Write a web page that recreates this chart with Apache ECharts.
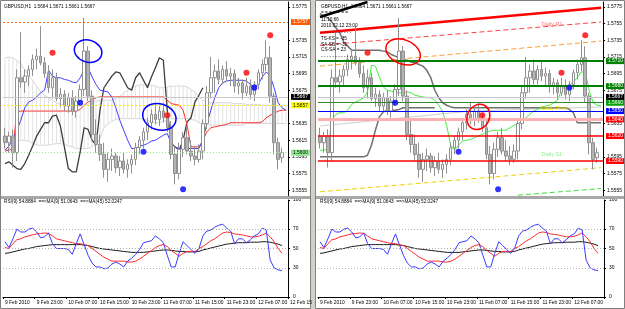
<!DOCTYPE html>
<html><head><meta charset="utf-8">
<script src="https://cdn.jsdelivr.net/npm/echarts@6.0.0/dist/echarts.min.js"></script>
<style>html,body{margin:0;padding:0;background:#fff;}#chart{width:625px;height:309px;}</style>
</head><body><div id="chart"></div>
<script>
// ---------- DATA ----------
const timeLabels = ['9 Feb 2010','9 Feb 23:00','10 Feb 07:00','10 Feb 15:00','10 Feb 23:00','11 Feb 07:00','11 Feb 15:00','11 Feb 23:00','12 Feb 07:00','12 Feb 15:00'];
const leftPriceTicks = [1.5555,1.5575,1.5595,1.5615,1.5635,1.5675,1.5695,1.5715,1.5735,1.5775];
const rightPriceTicks = [1.5555,1.5575,1.5595,1.5635,1.5675,1.5695,1.5715,1.5735,1.5755,1.5775];
const rsiTicks = [0,30,50,70,100];

const opens  = [1.5620,1.5612,1.5620,1.5600,1.5690,1.5685,1.5692,1.5700,1.5712,1.5716,1.5708,1.5695,1.5678,1.5690,1.5665,1.5670,1.5656,1.5666,1.5650,1.5662,1.5676,1.5722,1.5668,1.5622,1.5610,1.5598,1.5580,1.5592,1.5596,1.5582,1.5590,1.5580,1.5586,1.5592,1.5606,1.5615,1.5625,1.5636,1.5646,1.5640,1.5650,1.5642,1.5630,1.5598,1.5575,1.5604,1.5618,1.5602,1.5596,1.5592,1.5602,1.5635,1.5672,1.5690,1.5698,1.5688,1.5700,1.5692,1.5695,1.5680,1.5684,1.5672,1.5680,1.5670,1.5682,1.5696,1.5706,1.5714,1.5668,1.5612,1.5594];
const highs  = [1.5630,1.5625,1.5628,1.5700,1.5745,1.5700,1.5705,1.5718,1.5725,1.5752,1.5715,1.5705,1.5700,1.5696,1.5678,1.5675,1.5672,1.5675,1.5668,1.5682,1.5762,1.5728,1.5675,1.5640,1.5622,1.5612,1.5600,1.5605,1.5600,1.5596,1.5600,1.5592,1.5598,1.5612,1.5620,1.5630,1.5642,1.5652,1.5660,1.5656,1.5660,1.5648,1.5638,1.5608,1.5612,1.5625,1.5630,1.5615,1.5608,1.5610,1.5640,1.5680,1.5715,1.5706,1.5712,1.5705,1.5710,1.5702,1.5700,1.5690,1.5688,1.5690,1.5688,1.5686,1.5700,1.5712,1.5735,1.5728,1.5672,1.5618,1.5606];
const lows   = [1.5605,1.5600,1.5582,1.5590,1.5678,1.5672,1.5680,1.5692,1.5700,1.5705,1.5690,1.5672,1.5665,1.5662,1.5655,1.5650,1.5648,1.5645,1.5642,1.5656,1.5668,1.5662,1.5615,1.5600,1.5590,1.5570,1.5565,1.5578,1.5576,1.5572,1.5575,1.5570,1.5575,1.5585,1.5598,1.5605,1.5615,1.5628,1.5634,1.5632,1.5636,1.5625,1.5592,1.5562,1.5568,1.5595,1.5598,1.5590,1.5585,1.5588,1.5592,1.5628,1.5665,1.5672,1.5682,1.5682,1.5686,1.5680,1.5672,1.5670,1.5664,1.5668,1.5664,1.5662,1.5676,1.5688,1.5698,1.5660,1.5598,1.5580,1.5588];
const closes = [1.5612,1.5620,1.5600,1.5690,1.5685,1.5692,1.5700,1.5712,1.5716,1.5708,1.5695,1.5678,1.5690,1.5665,1.5670,1.5656,1.5666,1.5650,1.5662,1.5676,1.5722,1.5668,1.5622,1.5610,1.5598,1.5580,1.5592,1.5596,1.5582,1.5590,1.5580,1.5586,1.5592,1.5606,1.5615,1.5625,1.5636,1.5646,1.5640,1.5650,1.5642,1.5630,1.5598,1.5575,1.5604,1.5618,1.5602,1.5596,1.5592,1.5602,1.5635,1.5672,1.5690,1.5698,1.5688,1.5700,1.5692,1.5695,1.5680,1.5684,1.5672,1.5680,1.5670,1.5682,1.5696,1.5706,1.5714,1.5668,1.5612,1.5592,1.5600];

// left Ichimoku
const tenkanL = [1.5603,1.5608,1.5615,1.5627,1.5639,1.5654,1.5661,1.5663,1.5667,1.5672,1.5675,1.5699,1.5692,1.5690,1.5690,1.5688,1.5687,1.5685,1.5684,1.5690,1.5699,1.5702,1.5691,1.5682,1.5675,1.5674,1.5673,1.5667,1.5654,1.5639,1.5627,1.5615,1.5605,1.5605,1.5608,1.5609,1.5611,1.5614,1.5615,1.5618,1.5621,1.5623,1.5611,1.5607,1.5605,1.5605,1.5605,1.5605,1.5605,1.5605,1.5615,1.5635,1.5651,1.5666,1.5678,1.5684,1.5686,1.5687,1.5687,1.5687,1.5687,1.5686,1.5682,1.5679,1.5682,1.5691,1.5697,1.5692,1.5678,1.5660,1.5654,1.5651];
const kijunL = [1.5602,1.5603,1.5605,1.5649,1.5650,1.5650,1.5650,1.5650,1.5650,1.5650,1.5650,1.5650,1.5650,1.5650,1.5650,1.5650,1.5650,1.5650,1.5650,1.5652,1.5657,1.5661,1.5663,1.5666,1.5667,1.5667,1.5667,1.5667,1.5667,1.5667,1.5667,1.5667,1.5667,1.5667,1.5667,1.5667,1.5667,1.5667,1.5667,1.5667,1.5667,1.5663,1.5659,1.5658,1.5657,1.5651,1.5633,1.5607,1.5607,1.5607,1.5615,1.5625,1.5630,1.5631,1.5632,1.5633,1.5634,1.5636,1.5636,1.5636,1.5636,1.5636,1.5636,1.5636,1.5636,1.5637,1.5642,1.5645,1.5647,1.5650,1.5651,1.5651];
const chikouL = [1.5587,1.5589,1.5585,1.5581,1.5580,1.5587,1.5597,1.5608,1.5620,1.5628,1.5636,1.5636,1.5644,1.5645,1.5632,1.5607,1.5581,1.5577,1.5577,1.5601,1.5630,1.5628,1.5615,1.5609,1.5651,1.5678,1.5685,1.5692,1.5697,1.5696,1.5687,1.5678,1.5675,1.5690,1.5696,1.5687,1.5678,1.5691,1.5702,1.5714,1.5711,1.5651,1.5611,1.5607,1.5603,1.5615,1.5637,1.5642,1.5661,1.5669,1.5678];
const cloudAL = [1.5714,1.5715,1.5714,1.5711,1.5706,1.5700,1.5693,1.5687,1.5680,1.5673,1.5669,1.5666,1.5663,1.5660,1.5658,1.5657,1.5656,1.5656,1.5656,1.5657,1.5657,1.5658,1.5660,1.5662,1.5663,1.5663,1.5663,1.5663,1.5666,1.5668,1.5672,1.5675,1.5678,1.5680,1.5681,1.5682,1.5682,1.5681,1.5680,1.5678,1.5678,1.5679,1.5680,1.5680,1.5680,1.5680,1.5679,1.5676,1.5673,1.5667,1.5663,1.5661,1.5660,1.5660,1.5660,1.5660,1.5660,1.5660,1.5659,1.5659,1.5659,1.5658,1.5658,1.5658,1.5658,1.5657,1.5657,1.5657,1.5657,1.5657,1.5657,1.5657];
const cloudBL = [1.5603,1.5605,1.5608,1.5613,1.5615,1.5615,1.5614,1.5611,1.5609,1.5609,1.5609,1.5609,1.5610,1.5611,1.5611,1.5610,1.5608,1.5607,1.5605,1.5605,1.5605,1.5605,1.5607,1.5610,1.5617,1.5630,1.5634,1.5638,1.5640,1.5641,1.5641,1.5641,1.5641,1.5641,1.5641,1.5640,1.5639,1.5636,1.5636,1.5636,1.5638,1.5639,1.5641,1.5641,1.5641,1.5641,1.5641,1.5640,1.5639,1.5636,1.5635,1.5634,1.5633,1.5633,1.5633,1.5633,1.5633,1.5633,1.5633,1.5633,1.5633,1.5635,1.5635,1.5635,1.5635,1.5635,1.5635,1.5635,1.5635,1.5635,1.5635,1.5635];

// right panel lines
const greenR = [1.5603,1.5603,1.5605,1.5639,1.5646,1.5648,1.5648,1.5651,1.5658,1.5661,1.5663,1.5666,1.5673,1.5705,1.5704,1.5691,1.5679,1.5675,1.5674,1.5672,1.5672,1.5672,1.5673,1.5672,1.5669,1.5668,1.5667,1.5666,1.5666,1.5663,1.5657,1.5649,1.5633,1.5609,1.5603,1.5609,1.5614,1.5615,1.5616,1.5618,1.5620,1.5622,1.5625,1.5626,1.5627,1.5627,1.5627,1.5627,1.5630,1.5633,1.5635,1.5638,1.5642,1.5646,1.5650,1.5652,1.5655,1.5656,1.5657,1.5660,1.5663,1.5675,1.5680,1.5681,1.5685,1.5690,1.5697,1.5697,1.5675,1.5660,1.5657,1.5656];
const grayUpR = [1.5767,1.5764,1.5762,1.5757,1.5750,1.5744,1.5733,1.5728,1.5723,1.5723,1.5723,1.5723,1.5723,1.5723,1.5723,1.5723,1.5722,1.5721,1.5718,1.5716,1.5714,1.5712,1.5711,1.5709,1.5708,1.5706,1.5704,1.5699,1.5690,1.5675,1.5666,1.5660,1.5657,1.5655,1.5654,1.5654,1.5654,1.5654,1.5654,1.5654,1.5654,1.5654,1.5654,1.5654,1.5654,1.5654,1.5654,1.5654,1.5654,1.5654,1.5654,1.5654,1.5654,1.5654,1.5654,1.5654,1.5654,1.5654,1.5654,1.5654,1.5654,1.5654,1.5654,1.5652,1.5648,1.5636,1.5636,1.5636,1.5636,1.5636,1.5636,1.5636];
const grayLoR = [1.5595,1.5595,1.5595,1.5595,1.5595,1.5595,1.5595,1.5595,1.5595,1.5595,1.5595,1.5595,1.5597,1.5609,1.5627,1.5643,1.5649,1.5651,1.5651,1.5651,1.5652,1.5654,1.5654,1.5654,1.5654,1.5654,1.5654,1.5654,1.5654,1.5654];
const lightGrayR = [[0,1.5632],[38,1.5650],[71,1.5655]];

// fractals [bar, price]
const upFractals = [[12,1.5720],[41,1.5645],[61,1.5696],[67,1.5741]];
const downFractals = [[19,1.5660],[35,1.5601],[45,1.5556],[63,1.5678]];

// RSI
const rsi = [57,51,60,70,67,67,70,71,67,61,62,66,55,50,50,50,49,44,55,65,54,43,35,31,31,29,30,34,36,34,31,37,40,44,49,56,57,58,63,60,56,43,31,31,45,57,53,49,45,50,63,68,69,72,74,75,71,68,55,60,60,56,59,63,65,71,69,38,30,28,27];
const rsiMa9 = [51,50,55,59,60,62,63,64,65,65.5,66,65.5,63,60,59,58,57,56,55,55,54,53,50,47,44,41,39,37,37,37,37,36,36,37,39,42,45,48,51,53,54,52,48,45,42,45,47,47,47,50,52,55,58,60,63,66,67,66.5,65,64.5,64,63,62,62,62.5,64,66,62,57,50,45];
const rsiMa45 = [45,45.5,46.5,47.5,48.5,49.5,50,51,52,52.5,53,53.5,54,54,54,54,54,54,54,54,53.5,53,52,51,50,49.5,49,48.5,48,47.5,47,46.5,46,46,46,46,46.5,47,47.5,48,48.5,48.5,48,47.5,47,47,46.5,46.5,46.5,47,48.5,49.5,50.5,51.5,52.5,53.5,54.5,55,55.5,56,56,56,56.5,56.5,56.5,57,57,56.5,55.5,54.5,53];

// levels
const leftLevels = {orange:1.5757, current:1.5667, yellow:1.5657, green:1.5600};
const rightLevels = [1.5710,1.5680,1.5660,1.5650,1.5640,1.5620,1.5590];
const slopeRedSolid = [[0,1.5744],[71,1.5774]];
const slopeRedDash = [[0,1.5729],[71,1.5757]];
const slopeOrange = [[0,1.5704],[71,1.5734]];
const slopeYellow = [[0,1.5553],[71,1.5582]];
const slopeGreen = [[50,1.5549],[71,1.5557]];
const slopeBlack = [[0,1.5763],[12,1.5781]];

// ---------- CHART ----------
const N = 72;
const cats = Array.from({length:N},(_,i)=>String(i));
const candleData = opens.map((o,i)=>[o,closes[i],lows[i],highs[i]]);
const PMIN = 1.5548, PMAX = 1.5781;
const FONT = 'Liberation Sans';
const FS = 4.9;
const chart = echarts.init(document.getElementById('chart'), null, {renderer:'canvas'});

function xAx(grid, showLabels){
  return {type:'category', gridIndex:grid, data:cats, boundaryGap:true,
    axisLine:{show:showLabels, lineStyle:{color:'#000',width:1}},
    axisTick:{show:showLabels, interval:(i)=>i%8===0, length:2, inside:false, lineStyle:{color:'#000'}},
    axisLabel:{show:showLabels, interval:(i)=>i%8===0, showMinLabel:true, hideOverlap:false, formatter:(v,i)=>timeLabels[i/8]||'', fontSize:FS, fontFamily:FONT, color:'#000', align:'left', margin:3},
    splitLine:{show:false}};
}
function yPrice(grid, ticks){
  return {type:'value', gridIndex:grid, position:'right', min:PMIN, max:PMAX, scale:true,
    axisLine:{show:true, lineStyle:{color:'#000'}}, axisTick:{show:true, customValues:ticks, length:2, lineStyle:{color:'#000'}},
    axisLabel:{show:true, customValues:ticks, formatter:(v)=>v.toFixed(4), fontSize:FS, fontFamily:FONT, color:'#000', margin:4},
    splitLine:{show:false}};
}
function yRsi(grid){
  return {type:'value', gridIndex:grid, position:'right', min:0, max:100,
    axisLine:{show:true, lineStyle:{color:'#000'}}, axisTick:{show:true, customValues:rsiTicks, length:2, lineStyle:{color:'#000'}},
    axisLabel:{show:true, customValues:rsiTicks, fontSize:FS, fontFamily:FONT, color:'#000', margin:5},
    splitLine:{show:false}};
}
function boxLabel(text,bg,fg){
  return {show:true, position:'end', formatter:text, backgroundColor:bg, color:fg, fontSize:FS, fontFamily:FONT, padding:[1,2,0,2], distance:3};
}
function lineS(x,y,data,color,width,type,z){
  return {type:'line', xAxisIndex:x, yAxisIndex:y, data:data, symbol:'none', connectNulls:false,
    lineStyle:{color:color,width:width||1,type:type||'solid'}, z:z||3, silent:true, animation:false};
}
function cloudSeries(x,y){
  return {type:'custom', xAxisIndex:x, yAxisIndex:y, z:1, silent:true, animation:false,
    data: cloudAL.map((a,i)=>[i,a,cloudBL[i]]),
    renderItem:(params,api)=>{
      const p1=api.coord([api.value(0),api.value(1)]);
      const p2=api.coord([api.value(0),api.value(2)]);
      return {type:'line', shape:{x1:p1[0],y1:p1[1],x2:p2[0],y2:p2[1]}, style:{stroke:'#e2e2e2',lineWidth:1}};
    }};
}
function candles(x,y){
  return {type:'candlestick', xAxisIndex:x, yAxisIndex:y, data:candleData, barWidth:3, z:4, animation:false,
    itemStyle:{color:'#ffffff', color0:'#b4b4b4', borderColor:'#909090', borderColor0:'#909090', borderWidth:1}};
}
function fractals(x,y){
  return [
    {type:'scatter', xAxisIndex:x, yAxisIndex:y, data:upFractals, symbolSize:6, itemStyle:{color:'#ff0000'}, z:6, animation:false},
    {type:'scatter', xAxisIndex:x, yAxisIndex:y, data:downFractals, symbolSize:6, itemStyle:{color:'#0000ff'}, z:6, animation:false}
  ];
}
function rsiSeries(x,y){
  const dotted = {silent:true, precision:4, symbol:['none','none'], label:{show:false}, lineStyle:{color:'#b0b0b0',type:[1,2],width:1}, data:[{yAxis:70},{yAxis:50},{yAxis:30}]};
  return [
    Object.assign(lineS(x,y,rsiMa45,'#1a1a1a',1), {markLine:dotted}),
    lineS(x,y,rsiMa9,'#ff2a2a',1),
    lineS(x,y,rsi,'#3a3aff',1)
  ];
}

const series = [];
// LEFT price
series.push(cloudSeries(0,0));
series.push(lineS(0,0,cloudAL,'#d8d8d8',1,'solid',2));
series.push(lineS(0,0,cloudBL,'#d8d8d8',1,'solid',2));
series.push(lineS(0,0,chikouL,'#3c3c3c',1.3,'solid',3));
series.push(Object.assign(lineS(0,0,kijunL,'#ff3030',1,'solid',3), {
  markLine:{silent:true, precision:4, symbol:['none','none'], animation:false, data:[
    {yAxis:leftLevels.orange, lineStyle:{color:'#ff6a00',type:[2,2],width:1}, label:boxLabel('1.5757','#ff5a00','#ffffff')},
    {yAxis:leftLevels.current, lineStyle:{color:'#c8c8c8',type:'solid',width:1}, label:boxLabel('1.5667','#000000','#ffffff')},
    {yAxis:leftLevels.yellow, lineStyle:{color:'#f0f000',type:[2,2],width:1}, label:boxLabel('1.5657','#ffff00','#000000')},
    {yAxis:leftLevels.green, lineStyle:{color:'#90ee90',type:[1,2],width:1}, label:boxLabel('1.5600','#90ee90','#000000')}
  ]}}));
series.push(lineS(0,0,tenkanL,'#4040ff',1,'solid',3));
series.push(candles(0,0));
series.push(...fractals(0,0));
// LEFT RSI
series.push(...rsiSeries(1,1));

// RIGHT price
const rColors = [
  {c:'#008000',w:2,bg:'#008000',fg:'#ffffff'},
  {c:'#008000',w:2,bg:'#008000',fg:'#ffffff'},
  {c:'#2e8b2e',w:1,bg:'#00a000',fg:'#ffffff'},
  {c:'#0000ff',w:1,bg:'#0000ff',fg:'#ffffff'},
  {c:'#ffb0b0',w:3,bg:'#ff0000',fg:'#ffffff'},
  {c:'#ff0000',w:1.5,bg:'#ff0000',fg:'#ffffff'},
  {c:'#ff0000',w:1.5,bg:'#ff0000',fg:'#ffffff'}
];
series.push(lineS(2,2,lightGrayR,'#cfcfcf',1,'solid',2));
series.push(Object.assign(lineS(2,2,grayLoR,'#707070',1.5,'solid',3), {
  markLine:{silent:true, precision:4, symbol:['none','none'], animation:false, data:
    rightLevels.map((v,k)=>({yAxis:v, lineStyle:{color:rColors[k].c,width:rColors[k].w,type:'solid'}, label:boxLabel(v.toFixed(4),rColors[k].bg,rColors[k].fg)}))
    .concat([{yAxis:leftLevels.current, lineStyle:{color:'#c8c8c8',width:1,type:'solid'}, label:boxLabel('1.5667','#000000','#ffffff')}])
  }}));
series.push(lineS(2,2,grayUpR,'#707070',1.5,'solid',3));
series.push(lineS(2,2,greenR,'#44ee44',1,'solid',3));
series.push(lineS(2,2,slopeRedSolid,'#ff0000',2.5,'solid',3));
series.push(lineS(2,2,slopeRedDash,'#ff4040',1,[5,3],3));
series.push(lineS(2,2,slopeOrange,'#ffa030',1,[5,3],3));
series.push(lineS(2,2,slopeYellow,'#f0d000',1,[5,3],3));
series.push(lineS(2,2,slopeGreen,'#40e040',1,[5,3],3));
series.push(lineS(2,2,slopeBlack,'#000000',2.5,'solid',3));
series.push(candles(2,2));
series.push(...fractals(2,2));
// RIGHT RSI
series.push(...rsiSeries(3,3));

const txt = (x,y,t,color,size)=>({type:'text', x:x, y:y, z:100, silent:true, style:{text:t, fill:color||'#000', font:(size||4.7)+'px "'+FONT+'"', verticalAlign:'middle'}});
const graphics = [
  // frames
  {type:'rect', shape:{x:0.5,y:0.5,width:310,height:308}, style:{fill:'none',stroke:'#808080',lineWidth:1}, z:50, silent:true},
  {type:'rect', shape:{x:315.5,y:0.5,width:309,height:308}, style:{fill:'none',stroke:'#808080',lineWidth:1}, z:50, silent:true},
  {type:'rect', shape:{x:311,y:0,width:4,height:309}, style:{fill:'#d4d0c8'}, z:50, silent:true},
  {type:'rect', shape:{x:1,y:196,width:309,height:3}, style:{fill:'#a8a8a8'}, z:50, silent:true},
  {type:'rect', shape:{x:316,y:196,width:308,height:3}, style:{fill:'#a8a8a8'}, z:50, silent:true},
  txt(4,7,'GBPUSD,H1  1.5664 1.5671 1.5661 1.5667'),
  txt(321,7,'GBPUSD,H1  1.5664 1.5671 1.5661 1.5667'),
  txt(321,13,'= = = = = = ='),
  txt(321,20,'11:10:66'),
  txt(321,26,'2010.02.12 23:00'),
  txt(321,33,'- - - - - - - - - - -'),
  txt(321,39,'TS-KS = -35'),
  txt(321,45,'SA-SB = -31'),
  txt(321,50,'CS-SA = 23'),
  txt(321,57,'- - - - - - - - - - -'),
  txt(4,202,'RSI(9) 54.8884  ==>MA(9) 51.0643  ==>MA(45) 52.0247'),
  txt(320,202,'RSI(9) 54.8884  ==>MA(9) 51.0643  ==>MA(45) 52.0247')
];

chart.setOption({
  animation:false,
  backgroundColor:'#ffffff',
  grid:[
    {left:3, top:2, width:285, height:194},
    {left:3, top:200, width:285, height:97},
    {left:318, top:2, width:286, height:194},
    {left:318, top:200, width:286, height:97}
  ],
  xAxis:[xAx(0,false), xAx(1,true), xAx(2,false), xAx(3,true)],
  yAxis:[yPrice(0,leftPriceTicks), yRsi(1), yPrice(2,rightPriceTicks), yRsi(3)],
  series:series,
  graphic:graphics
});

// annotations positioned in data coordinates
const ann = [
  {g:0, c:[21,1.5722], rx:14, ry:11, color:'#0000ff', rot:-0.3},
  {g:0, c:[38.5,1.5643], rx:17, ry:13, color:'#0000ff', rot:-0.3},
  {g:2, c:[20.5,1.5721], rx:18, ry:12, color:'#ff0000', rot:-0.4},
  {g:2, c:[39.7,1.5643], rx:11, ry:13, color:'#ff0000', rot:-0.5}
];
const extra = ann.map(a=>{
  const p = chart.convertToPixel({gridIndex:a.g}, a.c);
  return {type:'ellipse', shape:{cx:p[0],cy:p[1],rx:a.rx,ry:a.ry}, rotation:a.rot, originX:p[0], originY:p[1], style:{fill:'none',stroke:a.color,lineWidth:1.5}, z:60, silent:true};
});
const lbls = [
  {c:[56,1.5754], t:'Daily R1', col:'#ff7070'},
  {c:[55.5,1.5653], t:'Daily Pivot', col:'#e8e800'},
  {c:[56,1.5598], t:'Daily S1', col:'#90ee90'}
];
lbls.forEach(l=>{
  const p = chart.convertToPixel({gridIndex:2}, l.c);
  extra.push(txt(p[0],p[1],l.t,l.col,5.5));
});
// "12 Feb 15:00" label beyond the last bar, placed after bar 71
const pEnd = chart.convertToPixel({gridIndex:1}, [71, 0]);
extra.push(txt(pEnd[0]+4, 303, '12 Feb 15', '#000', FS));
chart.setOption({graphic: graphics.concat(extra)});
</script></body></html>
